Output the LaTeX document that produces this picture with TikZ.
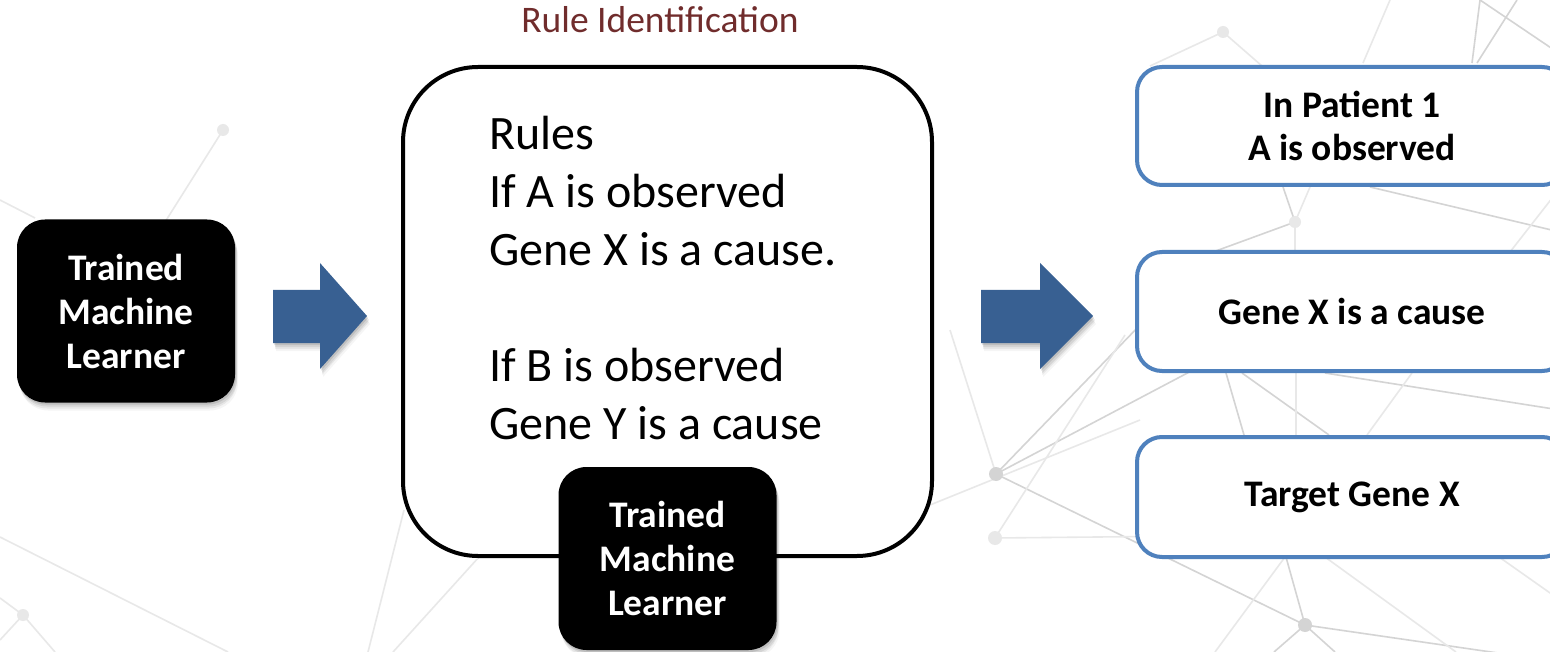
\documentclass[tikz,border=0pt]{standalone}
\usepackage{fontspec}
\setmainfont{Carlito}
\usetikzlibrary{shadows}
\definecolor{arrowblue}{RGB}{56,96,146}
\definecolor{boxblue}{RGB}{79,129,189}
\definecolor{titlered}{RGB}{112,44,44}
\definecolor{netgray}{RGB}{212,212,212}
\definecolor{netfaint}{RGB}{232,232,232}
\begin{document}
\begin{tikzpicture}[x=1pt,y=-1pt,
  net/.style={draw=netgray, line width=1.6},
  netlight/.style={draw=netfaint, line width=1.6},
  softshadow/.style={
    drop shadow={shadow xshift=1pt, shadow yshift=-2pt, opacity=0.10, fill=black},
    drop shadow={shadow xshift=2pt, shadow yshift=-4pt, opacity=0.08, fill=black},
    drop shadow={shadow xshift=2pt, shadow yshift=-6pt, opacity=0.06, fill=black},
    drop shadow={shadow xshift=3pt, shadow yshift=-8pt, opacity=0.04, fill=black}},
  mlbox/.style={softshadow, fill=black, text=white, rounded corners=28, inner sep=0,
    font=\bfseries\fontsize{37.5}{44}\selectfont, align=center,
    minimum width=218, minimum height=183},
  rulebox/.style={draw=black, fill=white, line width=4, rounded corners=75,
    minimum width=529, minimum height=489, inner sep=0},
  ruletext/.style={font=\fontsize{48}{58}\selectfont, align=left, inner sep=0},
  outbox/.style={draw=boxblue, fill=white, line width=4, rounded corners=25,
    font=\bfseries\fontsize{37.5}{43}\selectfont, align=center,
    minimum width=430, inner sep=0},
  blockarrow/.style={softshadow, fill=arrowblue},
]
\useasboundingbox (0,0) rectangle (1550,652);
\fill[white] (0,0) rectangle (1550,652);
\begin{scope}
\clip (0,0) rectangle (1550,652);

% faint network in the background
\draw[net] (996,474) -- (1170,294);
\draw[net] (996,474) -- (1250,340);
\draw[net] (996,474) -- (1305,625);
\draw[netlight] (996,474) -- (950,330);
\draw[netlight] (995,538) -- (1200,536);
\draw[netlight] (995,538) -- (1125,335);
\draw[netlight] (930,505) -- (1140,420);
\draw[net] (1305,625) -- (1270,500);
\draw[net] (1305,625) -- (1560,662);
\draw[net] (1305,625) -- (1274,652);
\draw[net] (1305,625) -- (1335,652);
\draw[netlight] (1285,557) -- (1215,652);
\draw[netlight] (1325,557) -- (1456,652);
\draw[netlight] (1499,557) -- (1560,600);
\draw[net] (1226,373) -- (1244,435);
\draw[net] (1242,373) -- (1329,435);
\draw[netlight] (1296,373) -- (1296,435);
\draw[net] (1325,373) -- (1560,410);
\draw[netlight] (1412,373) -- (1367,435);
\draw[net] (1295,222) -- (1213,252);
\draw[net] (1295,222) -- (1283,187);
\draw[netlight] (1295,222) -- (1310,187);
\draw[netlight] (1295,222) -- (1295,252);
\draw[net] (1370,187) -- (1560,232);
\draw[netlight] (1560,188) -- (1510,252);
\draw[net] (1480,0) -- (1472,63);
\draw[net] (1517,0) -- (1477,63);
\draw[net] (1480,0) -- (1560,54);
\draw[netlight] (1390,0) -- (1363,63);
\draw[netlight] (1223,32) -- (1262,66);
\draw[netlight] (1223,32) -- (1150,66);
\draw[netlight] (0,537) -- (228,652);
\draw[netlight] (23,615) -- (55,652);
\draw[netlight] (23,615) -- (0,598);
\draw[netlight] (23,615) -- (0,640);
\draw[netlight] (223,130) -- (160,230);
\draw[netlight] (0,200) -- (35,218);
\draw[netlight] (368,652) -- (404,510);
\draw[netlight] (393,652) -- (479,557);
\fill[netgray] (996,474) circle (7);
\fill[netfaint] (995,538) circle (7);
\fill[netgray] (1305,625) circle (7);
\fill[netfaint] (1295,222) circle (6);
\fill[netfaint] (1223,32) circle (6);
\fill[netfaint] (23,615) circle (6);
\fill[netfaint] (223,130) circle (6);

% title
\node[font=\fontsize{37.5}{44}\selectfont, text=titlered, anchor=base] (title) at (660,33) {Rule Identification};

% learner feeding the rule extraction
\node[mlbox] (learnerA) at (126,311) {Trained\\Machine\\Learner};
\fill[blockarrow] (273,290) -- (320,290) -- (320,263) -- (367,316) -- (320,369) -- (320,343) -- (273,343) -- cycle;

% extracted rules
\node[rulebox] (rules) at (667.5,311.5) {};
\node[ruletext, anchor=north west] (rulelist) at (489,116)
  {Rules\\If A is observed\\Gene X is a cause.\\[58pt]If B is observed\\Gene Y is a cause};
\node[mlbox] (learnerB) at (667.5,558.5) {Trained\\Machine\\Learner};

% application to a patient
\fill[blockarrow] (981,290) -- (1040,290) -- (1040,263) -- (1093,316) -- (1040,369) -- (1040,343) -- (981,343) -- cycle;
\node[outbox, minimum height=118] (patient) at (1352,126) {In Patient 1\\A is observed};
\node[outbox, minimum height=119] (cause) at (1352,311.5) {Gene X is a cause};
\node[outbox, minimum height=120] (target) at (1352,497) {Target Gene X};
\end{scope}
\end{tikzpicture}
\end{document}
